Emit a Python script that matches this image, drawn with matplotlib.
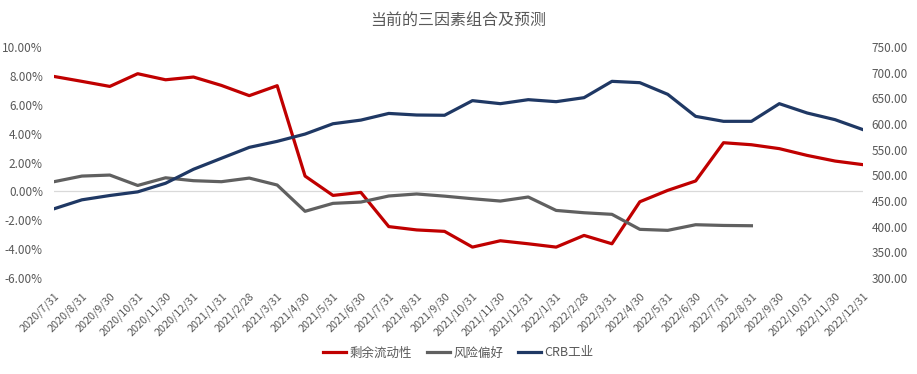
import numpy as np
import matplotlib
matplotlib.use("Agg")
import matplotlib.pyplot as plt
from matplotlib.ticker import FuncFormatter

plt.rcParams["font.family"] = ["Noto Sans CJK SC", "DejaVu Sans"]

dates = ["2020/7/31", "2020/8/31", "2020/9/30", "2020/10/31", "2020/11/30", "2020/12/31",
         "2021/1/31", "2021/2/28", "2021/3/31", "2021/4/30", "2021/5/31", "2021/6/30",
         "2021/7/31", "2021/8/31", "2021/9/30", "2021/10/31", "2021/11/30", "2021/12/31",
         "2022/1/31", "2022/2/28", "2022/3/31", "2022/4/30", "2022/5/31", "2022/6/30",
         "2022/7/31", "2022/8/31", "2022/9/30", "2022/10/31", "2022/11/30", "2022/12/31"]

# 剩余流动性 (%)
liquidity = [7.96, 7.62, 7.27, 8.15, 7.73, 7.92, 7.34, 6.63, 7.32, 1.06,
             -0.28, -0.07, -2.44, -2.67, -2.77, -3.86, -3.42, -3.63, -3.86, -3.05,
             -3.63, -0.72, 0.07, 0.72, 3.37, 3.23, 2.96, 2.49, 2.10, 1.85]
# 风险偏好 (%), no values after 2022/8
risk = [0.67, 1.06, 1.13, 0.41, 0.94, 0.74, 0.67, 0.92, 0.44, -1.38,
        -0.83, -0.74, -0.32, -0.18, -0.33, -0.51, -0.67, -0.39, -1.32, -1.48,
        -1.59, -2.63, -2.70, -2.31, -2.36, -2.38, np.nan, np.nan, np.nan, np.nan]
# CRB工业 (right axis)
crb = [434.8, 452.3, 460.7, 467.8, 484.6, 511.8, 533.2, 554.5, 566.2, 580.4,
       600.5, 607.6, 620.6, 617.5, 617.0, 645.5, 639.6, 647.4, 643.5, 651.3,
       683.1, 680.5, 657.8, 614.9, 605.2, 605.2, 639.6, 621.4, 608.4, 589.0]

RED = "#C00000"
GRAY = "#606060"
NAVY = "#1F3864"
TXT = "#595959"

fig = plt.figure(figsize=(9.17, 3.74), dpi=100)
ax = fig.add_axes([54 / 917, 96 / 374, (863 - 54) / 917, 231 / 374])
ax2 = ax.twinx()

x = np.arange(len(dates))
ax.axhline(0, color="#D9D9D9", lw=0.9, zorder=0)
l1, = ax.plot(x, liquidity, color=RED, lw=2.3, label="剩余流动性", zorder=3)
l2, = ax.plot(x, risk, color=GRAY, lw=2.3, label="风险偏好", zorder=3)
l3, = ax2.plot(x, crb, color=NAVY, lw=2.3, label="CRB工业", zorder=3)

ax.set_xlim(0, len(dates) - 1)
ax.set_ylim(-6, 10)
ax.set_yticks(np.arange(-6, 10.1, 2))
ax.yaxis.set_major_formatter(FuncFormatter(lambda v, p: f"{v:.2f}%"))
ax2.set_ylim(300, 750)
ax2.set_yticks(np.arange(300, 751, 50))
ax2.yaxis.set_major_formatter(FuncFormatter(lambda v, p: f"{v:.2f}"))

ax.set_xticks(x)
ax.set_xticklabels(dates, rotation=45, ha="right", rotation_mode="anchor")

for a in (ax, ax2):
    for s in a.spines.values():
        s.set_visible(False)
    a.tick_params(length=0, labelsize=8.5, colors=TXT)
ax.tick_params(axis="y", pad=8)
ax.tick_params(axis="x", pad=9, labelsize=7.8)
ax2.tick_params(axis="y", pad=6)

fig.text(0.5, 1 - 20 / 374, "当前的三因素组合及预测", ha="center", va="center",
         fontsize=11.5, color=TXT)

fig.legend(handles=[l1, l2, l3], loc="center", bbox_to_anchor=(0.5, 1 - 353 / 374),
           ncol=3, frameon=False, fontsize=9, handlelength=1.8, handletextpad=0.3,
           columnspacing=1.2, labelcolor=TXT)

fig.savefig("out.png", dpi=100)
